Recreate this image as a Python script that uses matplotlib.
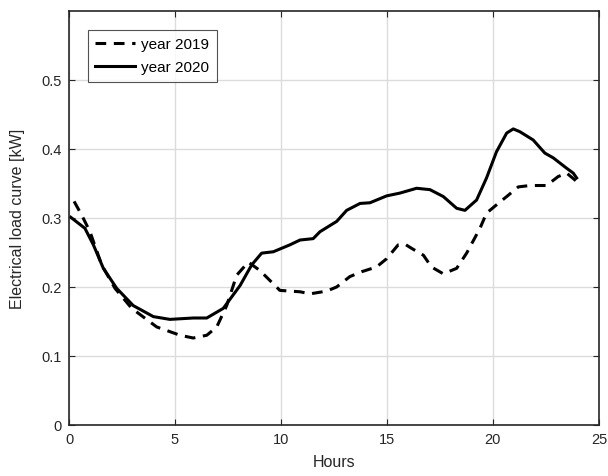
import matplotlib
matplotlib.use('Agg')
import matplotlib.pyplot as plt

# Hourly electrical load, averaged daily profile
hours_2019 = [0.24, 0.6, 0.99, 1.54, 2.17, 2.96, 4.14, 5.24, 5.86, 6.5, 6.97, 7.44, 7.91,
              8.46, 9.0, 9.95, 10.9, 11.37, 12.16, 12.63, 13.25, 13.8, 14.51, 14.99,
              15.53, 15.85, 16.16, 16.72, 17.1, 17.66, 18.29, 18.76, 19.39, 19.7, 20.17,
              20.65, 21.2, 21.75, 22.53, 23.08, 23.48, 23.95]
load_2019 = [0.324, 0.304, 0.28, 0.232, 0.198, 0.169, 0.142, 0.130, 0.126, 0.130, 0.142,
             0.173, 0.217, 0.236, 0.224, 0.195, 0.193, 0.190, 0.194, 0.200, 0.215, 0.222,
             0.229, 0.241, 0.261, 0.262, 0.256, 0.246, 0.229, 0.219, 0.227, 0.249, 0.285,
             0.307, 0.319, 0.331, 0.345, 0.347, 0.347, 0.360, 0.365, 0.353]

hours_2020 = [0.08, 0.75, 1.15, 1.62, 2.25, 3.03, 3.98, 4.76, 5.86, 6.5, 7.28, 8.07, 8.62,
              9.09, 9.64, 10.42, 10.9, 11.52, 11.84, 12.63, 13.1, 13.73, 14.2, 14.99,
              15.61, 16.4, 17.03, 17.66, 18.29, 18.68, 19.23, 19.7, 20.17, 20.65, 20.96,
              21.27, 21.9, 22.45, 22.85, 23.48, 23.79, 23.95]
load_2020 = [0.301, 0.285, 0.261, 0.227, 0.198, 0.173, 0.157, 0.153, 0.155, 0.155, 0.169,
             0.202, 0.232, 0.249, 0.251, 0.261, 0.268, 0.270, 0.280, 0.295, 0.311, 0.321,
             0.322, 0.332, 0.336, 0.343, 0.341, 0.331, 0.314, 0.311, 0.326, 0.358, 0.396,
             0.423, 0.429, 0.425, 0.413, 0.394, 0.387, 0.372, 0.365, 0.358]

plt.rcParams['font.family'] = ['Liberation Sans', 'DejaVu Sans']

fig = plt.figure(figsize=(6.08, 4.77), dpi=100)
ax = fig.add_axes([0.1135, 0.107, 0.8715, 0.868])

ax.plot(hours_2019, load_2019, color='black', lw=2.2, dashes=(3.5, 2.5),
        solid_joinstyle='round', dash_joinstyle='round', label='year 2019')
ax.plot(hours_2020, load_2020, color='black', lw=2.2,
        solid_joinstyle='round', label='year 2020')

ax.set_xlim(0, 25)
ax.set_ylim(0, 0.6)
ax.set_xticks([0, 5, 10, 15, 20, 25])
ax.set_yticks([0, 0.1, 0.2, 0.3, 0.4, 0.5])
ax.set_yticklabels(['0', '0.1', '0.2', '0.3', '0.4', '0.5'])
ax.grid(True, color='#dcdcdc', lw=1)
ax.set_axisbelow(True)
ax.tick_params(direction='in', top=True, right=True, labelsize=10.5, colors='#262626',
               length=4, pad=5)
for s in ax.spines.values():
    s.set_color('#262626')
    s.set_linewidth(1.2)

ax.set_xlabel('Hours', fontsize=11.5, color='#262626', labelpad=6)
ax.set_ylabel('Electrical load curve [kW]', fontsize=11.5, color='#262626', labelpad=12)

leg = ax.legend(loc='upper left', bbox_to_anchor=(0.035, 0.955), fontsize=11,
                fancybox=False, edgecolor='#262626', handlelength=2.6,
                borderpad=0.5, labelspacing=0.6, handletextpad=0.4, borderaxespad=0)
leg.get_frame().set_linewidth(0.8)

fig.savefig('out.png', dpi=100, facecolor='white')
